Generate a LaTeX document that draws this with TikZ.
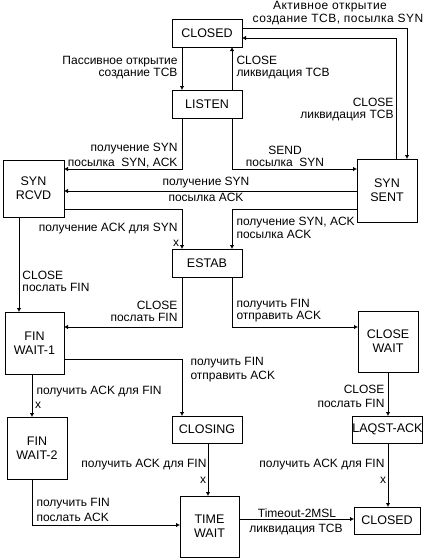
\documentclass[tikz,border=0pt]{standalone}
\usepackage{fontspec}
\setmainfont{Liberation Sans}
\usetikzlibrary{arrows.meta}
\begin{document}
\begin{tikzpicture}[x=1pt,y=-1pt,
  line width=1pt,
  >={Latex[length=4pt,width=4.5pt]},
  state/.style={draw, rectangle, inner sep=0pt, outer sep=0pt, align=center,
    font=\fontsize{12.5}{14}\selectfont},
  lbl/.style={inner sep=0pt, font=\fontsize{12}{12}\selectfont},
  lblb/.style={inner sep=0pt, font=\fontsize{12}{#1}\selectfont},
  wide/.style={inner sep=0pt, font=\fontsize{12}{12}\selectfont\addfontfeatures{LetterSpace=4}},
  conn/.style={->}]
\useasboundingbox (0,0) rectangle (427,560);
% states
\node[state, minimum width=70pt, minimum height=28pt] (closed) at (207,33) {CLOSED};
\node[state, minimum width=70pt, minimum height=28pt] (listen) at (207,104) {LISTEN};
\node[state, minimum width=61pt, minimum height=57pt] (synrcvd) at (33.5,188.5) {SYN\\RCVD};
\node[state, minimum width=60pt, minimum height=63pt] (synsent) at (387,190.5) {SYN\\SENT};
\node[state, minimum width=70pt, minimum height=28pt] (estab) at (207,263) {ESTAB};
\node[state, minimum width=59pt, minimum height=62pt] (finwait1) at (34.5,343) {FIN\\WAIT-1};
\node[state, minimum width=60pt, minimum height=61pt] (closewait) at (388,341.5) {CLOSE\\WAIT};
\node[state, minimum width=60pt, minimum height=62pt] (finwait2) at (37,448) {FIN\\WAIT-2};
\node[state, minimum width=70pt, minimum height=27pt] (closing) at (207,429.5) {CLOSING};
\node[state, minimum width=69pt, minimum height=27pt] (laqst) at (387.5,429.5) {LAQST-ACK};
\node[state, minimum width=59pt, minimum height=61pt] (timewait) at (209.5,526.5) {TIME\\WAIT};
\node[state, minimum width=66pt, minimum height=27pt] (closed2) at (387,520.5) {CLOSED};
% routing coordinates
\coordinate (xa) at (182,0);
\coordinate (xb) at (232,0);
\coordinate (xc) at (407,0);
\coordinate (xd) at (396,0);
\coordinate (xe) at (19,0);
\coordinate (xf) at (32,0);
\coordinate (xg) at (388,0);
\coordinate (xh) at (208,0);
\coordinate (ya) at (0,28);
\coordinate (yb) at (0,38);
\coordinate (yc) at (0,169);
\coordinate (yd) at (0,191);
\coordinate (ye) at (0,209);
\coordinate (yf) at (0,327);
\coordinate (yg) at (0,359);
\coordinate (yh) at (0,525);
\coordinate (yi) at (0,519);
% connectors
\draw[conn] (closed.south -| xa) -- (listen.north -| xa);
\draw[conn] (listen.north -| xb) -- (closed.south -| xb);
\draw[conn] (closed.east |- ya) -| (synsent.north -| xc);
\draw[conn] (synsent.north -| xd) |- (closed.east |- yb);
\draw[conn] (listen.south -| xa) |- (synrcvd.east |- yc);
\draw[conn] (listen.south -| xb) |- (synsent.west |- yc);
\draw[conn] (synsent.west |- yd) -- (synrcvd.east |- yd);
\draw[conn] (synrcvd.east |- ye) -| (estab.north -| xa);
\draw[conn] (synsent.west |- ye) -| (estab.north -| xb);
\draw[conn] (synrcvd.south -| xe) -- (finwait1.north -| xe);
\draw[conn] (estab.south -| xa) |- (finwait1.east |- yf);
\draw[conn] (estab.south -| xb) |- (closewait.west |- yf);
\draw[conn] (finwait1.east |- yg) -| (closing.north -| xa);
\draw[conn] (finwait1.south -| xf) -- (finwait2.north -| xf);
\draw[conn] (closewait.south -| xg) -- (laqst.north -| xg);
\draw[conn] (closing.south -| xh) -- (timewait.north -| xh);
\draw[conn] (laqst.south -| xg) -- (closed2.north -| xg);
\draw[conn] (finwait2.south -| xf) |- (timewait.west |- yh);
\draw[conn] (timewait.east |- yi) -- (closed2.west |- yi);
% labels
\node[wide] (l1a) at (330,6.5) {Активное открытие};
\node[wide] (l1b) at (338,20) {создание TCB, посылка SYN};
\node[lbl, anchor=east, align=right] (l2) at (178,68) {Пассивное открытие\\создание TCB};
\node[lbl, anchor=west, align=left] (l3) at (236,68) {CLOSE\\ликвидация TCB};
\node[lbl, anchor=east, align=right] (l4) at (394,110) {CLOSE\\ликвидация TCB};
\node[lblb=15, anchor=east, align=right] (l5) at (178,155.5) {получение SYN\\посылка\ \ SYN, ACK};
\node[lbl, align=center] (l6) at (285,156.5) {SEND\\посылка\ \ SYN};
\node[lbl] (l7a) at (206,183) {получение SYN};
\node[lbl] (l7b) at (206,197) {посылка ACK};
\node[lbl, anchor=east] (l8) at (178,229) {получение ACK для SYN};
\node[lbl] (x1) at (176,243) {x};
\node[lblb=13, anchor=west, align=left] (l9) at (236,228) {получение SYN, ACK\\посылка ACK};
\node[lbl, anchor=west, align=left] (l10) at (22,281) {CLOSE\\послать FIN};
\node[lbl, anchor=east, align=right] (l11) at (178,311) {CLOSE\\послать FIN};
\node[lbl, anchor=west, align=left] (l12) at (236,311) {получить FIN\\отправить ACK};
\node[lblb=14, anchor=west, align=left] (l13) at (190,370) {получить FIN\\отправить ACK};
\node[lbl, anchor=west] (l14) at (36,392) {получить ACK для FIN};
\node[lbl] (x2) at (38,405) {x};
\node[lblb=14, anchor=east, align=right] (l15) at (385,396) {CLOSE\\послать FIN};
\node[lbl, anchor=east] (l16) at (207,465) {получить ACK для FIN};
\node[lbl] (x3) at (203,480) {x};
\node[lbl, anchor=east] (l17) at (385,465) {получить ACK для FIN};
\node[lbl] (x4) at (383,480) {x};
\node[lblb=15, anchor=west, align=left] (l18) at (36,509.5) {получить FIN\\послать ACK};
\node[lbl] (l19a) at (297,513) {Timeout-2MSL};
\node[lbl] (l19b) at (296,529) {ликвидация TCB};
\end{tikzpicture}
\end{document}
